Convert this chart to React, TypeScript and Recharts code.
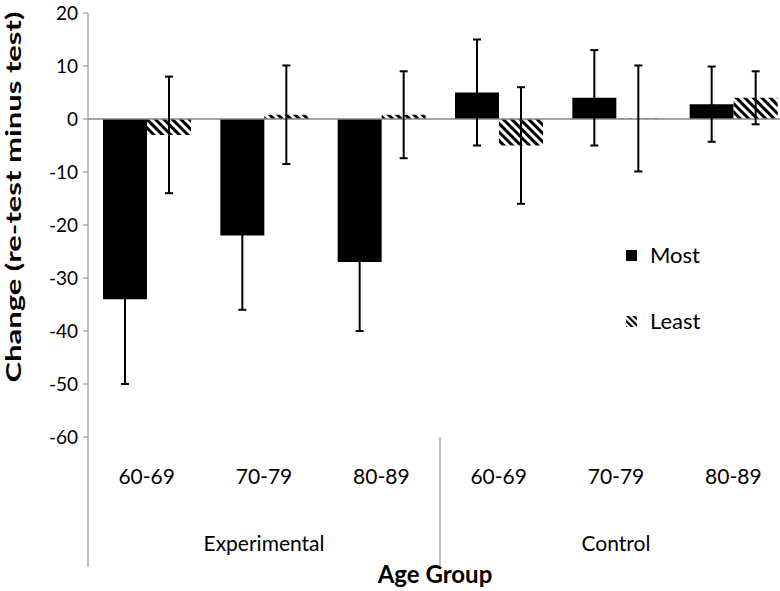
import React from 'react';
import { BarChart, Bar, XAxis, YAxis, ErrorBar, ReferenceLine, Legend } from 'recharts';

const groups = ['Experimental', 'Control'];
const ageGroups = ['60-69', '70-79', '80-89'];
const mostValues = [-34, -22, -27, 5, 4, 2.8];
const mostErrors = [16, 14, 13, 10, 9, 7.1];
const leastValues = [-3, 0.8, 0.8, -5, 0.1, 4];
const leastErrors = [11, 9.3, 8.2, 11, 10, 5];
const yTicks = [20, 10, 0, -10, -20, -30, -40, -50, -60];
const seriesNames = ['Most', 'Least'];

const data = groups.flatMap((g, gi) =>
  ageGroups.map((a, ai) => {
    const i = gi * ageGroups.length + ai;
    return {
      key: `${g}|${a}`,
      age: a,
      group: g,
      pos: ai,
      most: mostValues[i],
      mostErr: mostErrors[i],
      least: leastValues[i],
      leastErr: leastErrors[i],
    };
  })
);

const FONT = "Lato, 'Open Sans', sans-serif";
const AXIS = '#868686';

const AgeTick = (props: any) => {
  const { x, y, payload, index } = props;
  const row = data[index] || data[0];
  const half = payload && typeof payload.offset === 'number' && payload.offset > 0 ? payload.offset : 58.65;
  const mid = Math.floor(ageGroups.length / 2);
  return (
    <g>
      <text x={x} y={y} dy={47} textAnchor="middle" fontFamily={FONT} fontSize={21} fill="#000">
        {row.age}
      </text>
      {row.pos === mid && (
        <text x={x} y={y} dy={114} textAnchor="middle" fontFamily={FONT} fontSize={21} fill="#000">
          {row.group}
        </text>
      )}
      {row.pos === 0 && (
        <line x1={x - half} x2={x - half} y1={y} y2={y + 130} stroke={AXIS} strokeWidth={1} />
      )}
    </g>
  );
};

const XTitle = (props: any) => {
  const { x, y, width, height } = props.viewBox;
  return (
    <text x={x + width / 2 - 5} y={y + height - 8} textAnchor="middle" fontFamily={FONT} fontSize={24} fontWeight="bold" fill="#000">
      Age Group
    </text>
  );
};

const YTitle = (props: any) => {
  const { x, y, height } = props.viewBox;
  const cx = x + 21;
  const cy = y + height / 2 - 28;
  return (
    <text
      x={cx}
      y={cy}
      transform={`rotate(-90, ${cx}, ${cy})`}
      textAnchor="middle"
      fontFamily={FONT}
      fontSize={21}
      fontWeight="bold"
      fill="#000"
      textLength={371}
      lengthAdjust="spacingAndGlyphs"
    >
      Change (re-test minus test)
    </text>
  );
};

const LegendContent = () => (
  <div style={{ position: 'relative', width: 130, height: 100, fontFamily: FONT, fontSize: 22, color: '#000' }}>
    {seriesNames.map((name, i) => (
      <div
        key={name}
        style={{ position: 'absolute', left: 0, top: i * 66, height: 30, display: 'flex', alignItems: 'center' }}
      >
        <svg width={11} height={11} style={{ marginRight: 13 }}>
          <defs>
            <pattern id={`legstripe${i}`} patternUnits="userSpaceOnUse" width={4.5} height={4.5} patternTransform="rotate(-45)">
              <rect x={0} y={0} width={2.2} height={4.5} fill="#000" />
            </pattern>
          </defs>
          <rect x={0} y={0} width={11} height={11} fill={i === 0 ? '#000' : `url(#legstripe${i})`} />
        </svg>
        <span style={{ lineHeight: '30px' }}>{name}</span>
      </div>
    ))}
  </div>
);

export default function App() {
  return (
    <div style={{ position: 'absolute', left: 0, top: 0, width: 780, height: 591, overflow: 'hidden', background: '#fff' }}>
      <BarChart
        width={800}
        height={591}
        data={data}
        margin={{ top: 13, right: 8, bottom: 0, left: 0 }}
        barGap={0}
        barSize={44}
      >
        <defs>
          <pattern id="stripes" patternUnits="userSpaceOnUse" width={6} height={6} patternTransform="rotate(-45)">
            <rect x={0} y={0} width={6} height={6} fill="#fff" />
            <rect x={0} y={0} width={3} height={6} fill="#000" />
          </pattern>
        </defs>
        <XAxis
          dataKey="key"
          height={154}
          axisLine={false}
          tickLine={false}
          tickSize={0}
          tickMargin={0}
          interval={0}
          tick={<AgeTick />}
          label={<XTitle />}
        />
        <YAxis
          domain={[-60, 20]}
          ticks={yTicks}
          type="number"
          width={88}
          interval={0}
          allowDataOverflow
          axisLine={{ stroke: AXIS, strokeWidth: 1 }}
          tickLine={{ stroke: AXIS, strokeWidth: 1 }}
          tickSize={5}
          tickMargin={5}
          tick={{ fontFamily: FONT, fontSize: 19, fill: '#000' }}
          label={<YTitle />}
        />
        <ReferenceLine y={0} stroke={AXIS} strokeWidth={1.5} />
        <Bar dataKey="most" name="Most" fill="#000" isAnimationActive={false}>
          <ErrorBar dataKey="mostErr" width={4} stroke="#000" strokeWidth={2} direction="y" />
        </Bar>
        <Bar dataKey="least" name="Least" fill="url(#stripes)" isAnimationActive={false}>
          <ErrorBar dataKey="leastErr" width={4} stroke="#000" strokeWidth={2} direction="y" />
        </Bar>
        <Legend
          layout="vertical"
          align="center"
          verticalAlign="middle"
          content={<LegendContent />}
          wrapperStyle={{ position: 'absolute', left: 626, top: 240, width: 130 }}
        />
      </BarChart>
    </div>
  );
}
